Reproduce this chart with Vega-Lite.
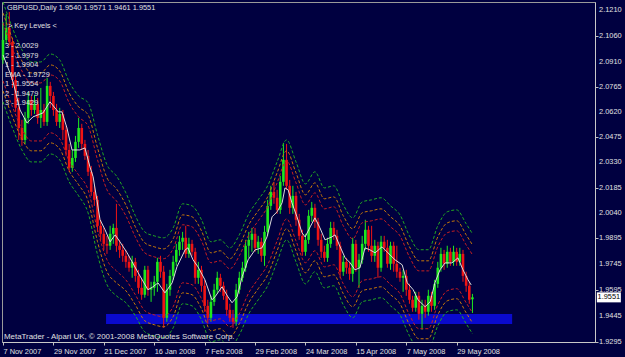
{
"$schema": "https://vega.github.io/schema/vega-lite/v6.json",
"width": 593, "height": 340,
"autosize": {"type": "none"},
"padding": {"left": 2, "top": 2, "right": 30, "bottom": 15},
"background": "#000040",
"config": {"view": {"stroke": "#9a9a9a", "strokeWidth": 1}, "font": "Liberation Sans",
 "axis": {"labelOverlap": false, "labelFlush": false, "grid": false, "labelFont": "Liberation Sans", "labelFontSize": 7.4, "labelColor": "#e0e0e0", "tickColor": "#c0c0c0", "domainColor": "#c8c8c8", "tickSize": 3}},
"datasets": {
"zone": [{"i1": 32.7, "i2": 161.6, "top": 1.9455, "bot": 1.9397}],
"yticks": [{"p":2.1210},{"p":2.1060},{"p":2.0910},{"p":2.0765},{"p":2.0620},{"p":2.0475},{"p":2.0330},{"p":2.0185},{"p":2.0040},{"p":1.9895},{"p":1.9745},{"p":1.9595},{"p":1.9445},{"p":1.9295}],
"head": [{"t": "GBPUSD,Daily  1.9540 1.9571 1.9461 1.9551"}],
"keyhead": [{"t": "> Key Levels <"}],
"levels": [{"t": ["3 - 2.0029", "2 - 1.9979", "1 - 1.9904", "EMA - 1.9729", "1 - 1.9554", "2 - 1.9479", "3 - 1.9429"]}],
"footer": [{"t": "MetaTrader - Alpari UK, © 2001-2008 MetaQuotes Software Corp."}],
"candles": [
{"i":0,"o":2.0922,"h":2.1141,"l":2.0899,"c":2.1037},
{"i":1,"o":2.1037,"h":2.1187,"l":2.1014,"c":2.1106},
{"i":2,"o":2.1106,"h":2.1199,"l":2.1003,"c":2.1026},
{"i":3,"o":2.1026,"h":2.1049,"l":2.0760,"c":2.0806},
{"i":4,"o":2.0806,"h":2.0829,"l":2.0622,"c":2.0645},
{"i":5,"o":2.0645,"h":2.0703,"l":2.0460,"c":2.0529},
{"i":6,"o":2.0529,"h":2.0576,"l":2.0426,"c":2.0460},
{"i":7,"o":2.0460,"h":2.0622,"l":2.0437,"c":2.0587},
{"i":8,"o":2.0587,"h":2.0737,"l":2.0553,"c":2.0691},
{"i":9,"o":2.0691,"h":2.0714,"l":2.0599,"c":2.0633},
{"i":10,"o":2.0633,"h":2.0720,"l":2.0610,"c":2.0668},
{"i":11,"o":2.0668,"h":2.0703,"l":2.0553,"c":2.0587},
{"i":12,"o":2.0587,"h":2.0760,"l":2.0529,"c":2.0633},
{"i":13,"o":2.0633,"h":2.0668,"l":2.0541,"c":2.0564},
{"i":14,"o":2.0564,"h":2.0818,"l":2.0541,"c":2.0772},
{"i":15,"o":2.0772,"h":2.0795,"l":2.0645,"c":2.0714},
{"i":16,"o":2.0714,"h":2.0737,"l":2.0599,"c":2.0633},
{"i":17,"o":2.0633,"h":2.0668,"l":2.0541,"c":2.0564},
{"i":18,"o":2.0564,"h":2.0645,"l":2.0529,"c":2.0610},
{"i":19,"o":2.0610,"h":2.0633,"l":2.0460,"c":2.0518},
{"i":20,"o":2.0518,"h":2.0541,"l":2.0368,"c":2.0402},
{"i":21,"o":2.0402,"h":2.0437,"l":2.0276,"c":2.0299},
{"i":22,"o":2.0299,"h":2.0402,"l":2.0276,"c":2.0356},
{"i":23,"o":2.0356,"h":2.0483,"l":2.0333,"c":2.0449},
{"i":24,"o":2.0449,"h":2.0587,"l":2.0414,"c":2.0529},
{"i":25,"o":2.0529,"h":2.0553,"l":2.0402,"c":2.0437},
{"i":26,"o":2.0437,"h":2.0460,"l":2.0345,"c":2.0368},
{"i":27,"o":2.0368,"h":2.0402,"l":2.0252,"c":2.0276},
{"i":28,"o":2.0276,"h":2.0310,"l":2.0137,"c":2.0160},
{"i":29,"o":2.0160,"h":2.0195,"l":2.0079,"c":2.0114},
{"i":30,"o":2.0114,"h":2.0137,"l":1.9929,"c":1.9964},
{"i":31,"o":1.9964,"h":1.9999,"l":1.9883,"c":1.9918},
{"i":32,"o":1.9918,"h":1.9952,"l":1.9825,"c":1.9860},
{"i":33,"o":1.9860,"h":1.9906,"l":1.9802,"c":1.9849},
{"i":34,"o":1.9849,"h":1.9964,"l":1.9825,"c":1.9918},
{"i":35,"o":1.9918,"h":1.9976,"l":1.9860,"c":1.9952},
{"i":36,"o":1.9952,"h":2.0091,"l":1.9814,"c":1.9849},
{"i":37,"o":1.9849,"h":1.9883,"l":1.9779,"c":1.9825},
{"i":38,"o":1.9825,"h":1.9860,"l":1.9756,"c":1.9791},
{"i":39,"o":1.9791,"h":1.9825,"l":1.9722,"c":1.9756},
{"i":40,"o":1.9756,"h":1.9791,"l":1.9699,"c":1.9722},
{"i":41,"o":1.9722,"h":1.9791,"l":1.9664,"c":1.9756},
{"i":42,"o":1.9756,"h":1.9779,"l":1.9641,"c":1.9675},
{"i":43,"o":1.9675,"h":1.9710,"l":1.9572,"c":1.9606},
{"i":44,"o":1.9606,"h":1.9664,"l":1.9537,"c":1.9566},
{"i":45,"o":1.9566,"h":1.9733,"l":1.9549,"c":1.9710},
{"i":46,"o":1.9710,"h":1.9733,"l":1.9560,"c":1.9595},
{"i":47,"o":1.9595,"h":1.9641,"l":1.9525,"c":1.9606},
{"i":48,"o":1.9606,"h":1.9675,"l":1.9560,"c":1.9641},
{"i":49,"o":1.9641,"h":1.9779,"l":1.9583,"c":1.9756},
{"i":50,"o":1.9756,"h":1.9791,"l":1.9664,"c":1.9699},
{"i":51,"o":1.9699,"h":1.9733,"l":1.9375,"c":1.9433},
{"i":52,"o":1.9433,"h":1.9629,"l":1.9410,"c":1.9595},
{"i":53,"o":1.9595,"h":1.9710,"l":1.9560,"c":1.9675},
{"i":54,"o":1.9675,"h":1.9791,"l":1.9652,"c":1.9756},
{"i":55,"o":1.9756,"h":1.9860,"l":1.9733,"c":1.9825},
{"i":56,"o":1.9825,"h":1.9906,"l":1.9791,"c":1.9872},
{"i":57,"o":1.9872,"h":1.9929,"l":1.9825,"c":1.9895},
{"i":58,"o":1.9895,"h":1.9964,"l":1.9779,"c":1.9802},
{"i":59,"o":1.9802,"h":1.9895,"l":1.9779,"c":1.9860},
{"i":60,"o":1.9860,"h":1.9883,"l":1.9791,"c":1.9814},
{"i":61,"o":1.9814,"h":1.9837,"l":1.9629,"c":1.9664},
{"i":62,"o":1.9664,"h":1.9756,"l":1.9629,"c":1.9710},
{"i":63,"o":1.9710,"h":1.9733,"l":1.9583,"c":1.9618},
{"i":64,"o":1.9618,"h":1.9652,"l":1.9468,"c":1.9502},
{"i":65,"o":1.9502,"h":1.9537,"l":1.9399,"c":1.9433},
{"i":66,"o":1.9433,"h":1.9560,"l":1.9410,"c":1.9525},
{"i":67,"o":1.9525,"h":1.9629,"l":1.9502,"c":1.9595},
{"i":68,"o":1.9595,"h":1.9699,"l":1.9572,"c":1.9664},
{"i":69,"o":1.9664,"h":1.9687,"l":1.9583,"c":1.9618},
{"i":70,"o":1.9618,"h":1.9641,"l":1.9537,"c":1.9560},
{"i":71,"o":1.9560,"h":1.9595,"l":1.9445,"c":1.9479},
{"i":72,"o":1.9479,"h":1.9514,"l":1.9410,"c":1.9433},
{"i":73,"o":1.9433,"h":1.9479,"l":1.9375,"c":1.9410},
{"i":74,"o":1.9410,"h":1.9629,"l":1.9387,"c":1.9595},
{"i":75,"o":1.9595,"h":1.9699,"l":1.9572,"c":1.9664},
{"i":76,"o":1.9664,"h":1.9756,"l":1.9641,"c":1.9722},
{"i":77,"o":1.9722,"h":1.9883,"l":1.9699,"c":1.9849},
{"i":78,"o":1.9849,"h":1.9929,"l":1.9779,"c":1.9883},
{"i":79,"o":1.9883,"h":1.9952,"l":1.9814,"c":1.9918},
{"i":80,"o":1.9918,"h":1.9952,"l":1.9814,"c":1.9837},
{"i":81,"o":1.9837,"h":1.9906,"l":1.9802,"c":1.9872},
{"i":82,"o":1.9872,"h":1.9895,"l":1.9756,"c":1.9791},
{"i":83,"o":1.9791,"h":1.9964,"l":1.9733,"c":1.9929},
{"i":84,"o":1.9929,"h":2.0114,"l":1.9906,"c":2.0079},
{"i":85,"o":2.0079,"h":2.0195,"l":2.0056,"c":2.0160},
{"i":86,"o":2.0160,"h":2.0218,"l":2.0091,"c":2.0126},
{"i":87,"o":2.0126,"h":2.0172,"l":2.0033,"c":2.0056},
{"i":88,"o":2.0056,"h":2.0252,"l":2.0033,"c":2.0218},
{"i":89,"o":2.0218,"h":2.0443,"l":2.0195,"c":2.0345},
{"i":90,"o":2.0345,"h":2.0437,"l":2.0172,"c":2.0195},
{"i":91,"o":2.0195,"h":2.0229,"l":2.0033,"c":2.0068},
{"i":92,"o":2.0068,"h":2.0195,"l":2.0033,"c":2.0137},
{"i":93,"o":2.0137,"h":2.0160,"l":1.9964,"c":1.9999},
{"i":94,"o":1.9999,"h":2.0033,"l":1.9883,"c":1.9906},
{"i":95,"o":1.9906,"h":1.9941,"l":1.9791,"c":1.9814},
{"i":96,"o":1.9814,"h":1.9918,"l":1.9791,"c":1.9883},
{"i":97,"o":1.9883,"h":2.0056,"l":1.9860,"c":2.0022},
{"i":98,"o":2.0022,"h":2.0102,"l":1.9987,"c":2.0068},
{"i":99,"o":2.0068,"h":2.0091,"l":1.9952,"c":1.9987},
{"i":100,"o":1.9987,"h":2.0010,"l":1.9849,"c":1.9883},
{"i":101,"o":1.9883,"h":1.9918,"l":1.9779,"c":1.9814},
{"i":102,"o":1.9814,"h":1.9849,"l":1.9756,"c":1.9779},
{"i":103,"o":1.9779,"h":1.9895,"l":1.9756,"c":1.9860},
{"i":104,"o":1.9860,"h":1.9987,"l":1.9837,"c":1.9952},
{"i":105,"o":1.9952,"h":1.9987,"l":1.9883,"c":1.9906},
{"i":106,"o":1.9906,"h":1.9941,"l":1.9825,"c":1.9849},
{"i":107,"o":1.9849,"h":1.9872,"l":1.9664,"c":1.9699},
{"i":108,"o":1.9699,"h":1.9791,"l":1.9675,"c":1.9756},
{"i":109,"o":1.9756,"h":1.9779,"l":1.9687,"c":1.9722},
{"i":110,"o":1.9722,"h":1.9756,"l":1.9652,"c":1.9687},
{"i":111,"o":1.9687,"h":1.9895,"l":1.9641,"c":1.9860},
{"i":112,"o":1.9860,"h":1.9883,"l":1.9699,"c":1.9722},
{"i":113,"o":1.9722,"h":1.9802,"l":1.9606,"c":1.9768},
{"i":114,"o":1.9768,"h":1.9906,"l":1.9745,"c":1.9860},
{"i":115,"o":1.9860,"h":1.9999,"l":1.9825,"c":1.9941},
{"i":116,"o":1.9941,"h":1.9964,"l":1.9814,"c":1.9849},
{"i":117,"o":1.9849,"h":1.9964,"l":1.9756,"c":1.9791},
{"i":118,"o":1.9791,"h":1.9883,"l":1.9756,"c":1.9849},
{"i":119,"o":1.9849,"h":1.9872,"l":1.9664,"c":1.9722},
{"i":120,"o":1.9722,"h":1.9906,"l":1.9699,"c":1.9872},
{"i":121,"o":1.9872,"h":1.9906,"l":1.9814,"c":1.9837},
{"i":122,"o":1.9837,"h":1.9883,"l":1.9722,"c":1.9745},
{"i":123,"o":1.9745,"h":1.9872,"l":1.9710,"c":1.9849},
{"i":124,"o":1.9849,"h":1.9872,"l":1.9699,"c":1.9745},
{"i":125,"o":1.9745,"h":1.9849,"l":1.9664,"c":1.9699},
{"i":126,"o":1.9699,"h":1.9722,"l":1.9641,"c":1.9664},
{"i":127,"o":1.9664,"h":1.9710,"l":1.9583,"c":1.9675},
{"i":128,"o":1.9675,"h":1.9710,"l":1.9560,"c":1.9595},
{"i":129,"o":1.9595,"h":1.9629,"l":1.9514,"c":1.9537},
{"i":130,"o":1.9537,"h":1.9560,"l":1.9468,"c":1.9491},
{"i":131,"o":1.9491,"h":1.9583,"l":1.9468,"c":1.9560},
{"i":132,"o":1.9560,"h":1.9583,"l":1.9422,"c":1.9456},
{"i":133,"o":1.9456,"h":1.9537,"l":1.9364,"c":1.9502},
{"i":134,"o":1.9502,"h":1.9537,"l":1.9433,"c":1.9468},
{"i":135,"o":1.9468,"h":1.9595,"l":1.9445,"c":1.9560},
{"i":136,"o":1.9560,"h":1.9583,"l":1.9468,"c":1.9502},
{"i":137,"o":1.9502,"h":1.9652,"l":1.9479,"c":1.9629},
{"i":138,"o":1.9629,"h":1.9756,"l":1.9606,"c":1.9722},
{"i":139,"o":1.9722,"h":1.9837,"l":1.9699,"c":1.9802},
{"i":140,"o":1.9802,"h":1.9825,"l":1.9710,"c":1.9745},
{"i":141,"o":1.9745,"h":1.9849,"l":1.9722,"c":1.9814},
{"i":142,"o":1.9814,"h":1.9837,"l":1.9733,"c":1.9756},
{"i":143,"o":1.9756,"h":1.9849,"l":1.9733,"c":1.9814},
{"i":144,"o":1.9814,"h":1.9837,"l":1.9733,"c":1.9756},
{"i":145,"o":1.9756,"h":1.9837,"l":1.9733,"c":1.9802},
{"i":146,"o":1.9802,"h":1.9825,"l":1.9641,"c":1.9675},
{"i":147,"o":1.9675,"h":1.9699,"l":1.9583,"c":1.9618},
{"i":148,"o":1.9618,"h":1.9641,"l":1.9514,"c":1.9537},
{"i":149,"o":1.9540,"h":1.9571,"l":1.9461,"c":1.9551}
],
"ema": [
{"i":0,"v":2.0951},{"i":2.2,"v":2.0847},{"i":3.2,"v":2.0795},{"i":5.4,"v":2.0633},{"i":7.6,"v":2.0558},{"i":9.5,"v":2.0593},{"i":12.7,"v":2.0616},{"i":14.9,"v":2.0680},{"i":17.5,"v":2.0622},{"i":18.7,"v":2.0622},{"i":20.3,"v":2.0529},{"i":21.9,"v":2.0402},{"i":24.4,"v":2.0402},{"i":26,"v":2.0414},{"i":27.6,"v":2.0304},{"i":28.6,"v":2.0247},{"i":29.8,"v":2.0114},{"i":30.8,"v":1.9999},{"i":32.4,"v":1.9941},{"i":34,"v":1.9872},{"i":35.6,"v":1.9912},{"i":37.1,"v":1.9872},{"i":39.4,"v":1.9808},{"i":42.9,"v":1.9693},{"i":46,"v":1.9595},{"i":47.6,"v":1.9612},{"i":49.2,"v":1.9635},{"i":51.4,"v":1.9577},{"i":53.7,"v":1.9635},{"i":55.2,"v":1.9727},{"i":57.8,"v":1.9825},{"i":58.7,"v":1.9837},{"i":60.3,"v":1.9768},{"i":61.9,"v":1.9727},{"i":64.1,"v":1.9652},{"i":66.3,"v":1.9537},{"i":67.3,"v":1.9554},{"i":69.5,"v":1.9612},{"i":71.4,"v":1.9554},{"i":72.7,"v":1.9520},{"i":74.3,"v":1.9554},{"i":75.9,"v":1.9670},{"i":77.8,"v":1.9768},{"i":80,"v":1.9825},{"i":82.2,"v":1.9837},{"i":83.8,"v":1.9900},{"i":85.4,"v":2.0016},{"i":87,"v":2.0045},{"i":88.6,"v":2.0097},{"i":89.5,"v":2.0183},{"i":90.5,"v":2.0172},{"i":91.7,"v":2.0097},{"i":93.3,"v":2.0016},{"i":94.9,"v":1.9924},{"i":95.9,"v":1.9900},{"i":97.5,"v":1.9958},{"i":99,"v":2.0010},{"i":100.6,"v":1.9952},{"i":102.2,"v":1.9883},{"i":104.4,"v":1.9900},{"i":105.4,"v":1.9912},{"i":107,"v":1.9843},{"i":108.6,"v":1.9779},{"i":110.2,"v":1.9750},{"i":111.7,"v":1.9710},{"i":113.3,"v":1.9722},{"i":114.9,"v":1.9837},{"i":116.5,"v":1.9825},{"i":118.1,"v":1.9808},{"i":120.3,"v":1.9843},{"i":122.2,"v":1.9808},{"i":124.4,"v":1.9768},{"i":126.7,"v":1.9739},{"i":128.3,"v":1.9635},{"i":130.2,"v":1.9595},{"i":131.7,"v":1.9537},{"i":134,"v":1.9497},{"i":135.6,"v":1.9526},{"i":137.1,"v":1.9635},{"i":138.7,"v":1.9710},{"i":140.3,"v":1.9750},{"i":142.5,"v":1.9750},{"i":144.4,"v":1.9779},{"i":146,"v":1.9710},{"i":147.6,"v":1.9652},{"i":148.6,"v":1.9623}
],
"bands": [
{"i":0,"ug":2.1256,"uo":2.1193,"ur":2.1135,"lr":2.0801,"lo":2.0743,"lg":2.0680},
{"i":3,"ug":2.1106,"uo":2.1043,"ur":2.0985,"lr":2.0651,"lo":2.0593,"lg":2.0529},
{"i":6,"ug":2.0980,"uo":2.0916,"ur":2.0858,"lr":2.0524,"lo":2.0466,"lg":2.0402},
{"i":9,"ug":2.0910,"uo":2.0847,"ur":2.0789,"lr":2.0454,"lo":2.0397,"lg":2.0333},
{"i":12,"ug":2.0910,"uo":2.0847,"ur":2.0789,"lr":2.0454,"lo":2.0397,"lg":2.0333},
{"i":15,"ug":2.0956,"uo":2.0893,"ur":2.0835,"lr":2.0501,"lo":2.0443,"lg":2.0379},
{"i":18,"ug":2.0922,"uo":2.0858,"ur":2.0801,"lr":2.0466,"lo":2.0408,"lg":2.0345},
{"i":21,"ug":2.0795,"uo":2.0731,"ur":2.0674,"lr":2.0339,"lo":2.0281,"lg":2.0218},
{"i":24,"ug":2.0714,"uo":2.0651,"ur":2.0593,"lr":2.0258,"lo":2.0201,"lg":2.0137},
{"i":27,"ug":2.0674,"uo":2.0604,"ur":2.0541,"lr":2.0172,"lo":2.0108,"lg":2.0039},
{"i":30,"ug":2.0489,"uo":2.0414,"ur":2.0345,"lr":1.9941,"lo":1.9872,"lg":1.9797},
{"i":33,"ug":2.0316,"uo":2.0241,"ur":2.0172,"lr":1.9768,"lo":1.9699,"lg":1.9624},
{"i":36,"ug":2.0252,"uo":2.0178,"ur":2.0108,"lr":1.9704,"lo":1.9635,"lg":1.9560},
{"i":39,"ug":2.0154,"uo":2.0085,"ur":2.0022,"lr":1.9652,"lo":1.9589,"lg":1.9520},
{"i":42,"ug":2.0022,"uo":1.9958,"ur":1.9900,"lr":1.9566,"lo":1.9508,"lg":1.9445},
{"i":45,"ug":1.9929,"uo":1.9866,"ur":1.9808,"lr":1.9474,"lo":1.9416,"lg":1.9352},
{"i":48,"ug":1.9906,"uo":1.9843,"ur":1.9785,"lr":1.9450,"lo":1.9393,"lg":1.9329},
{"i":51,"ug":1.9895,"uo":1.9831,"ur":1.9774,"lr":1.9439,"lo":1.9381,"lg":1.9318},
{"i":54,"ug":1.9952,"uo":1.9889,"ur":1.9831,"lr":1.9497,"lo":1.9439,"lg":1.9375},
{"i":57,"ug":2.0091,"uo":2.0027,"ur":1.9970,"lr":1.9635,"lo":1.9577,"lg":1.9514},
{"i":60,"ug":2.0079,"uo":2.0016,"ur":1.9958,"lr":1.9624,"lo":1.9566,"lg":1.9502},
{"i":63,"ug":1.9999,"uo":1.9935,"ur":1.9877,"lr":1.9543,"lo":1.9485,"lg":1.9422},
{"i":66,"ug":1.9872,"uo":1.9808,"ur":1.9751,"lr":1.9416,"lo":1.9358,"lg":1.9295},
{"i":69,"ug":1.9883,"uo":1.9820,"ur":1.9762,"lr":1.9427,"lo":1.9370,"lg":1.9306},
{"i":72,"ug":1.9837,"uo":1.9774,"ur":1.9716,"lr":1.9381,"lo":1.9324,"lg":1.9260},
{"i":75,"ug":1.9912,"uo":1.9849,"ur":1.9791,"lr":1.9456,"lo":1.9399,"lg":1.9335},
{"i":78,"ug":2.0033,"uo":1.9970,"ur":1.9912,"lr":1.9577,"lo":1.9520,"lg":1.9456},
{"i":81,"ug":2.0114,"uo":2.0051,"ur":1.9993,"lr":1.9658,"lo":1.9601,"lg":1.9537},
{"i":84,"ug":2.0195,"uo":2.0131,"ur":2.0074,"lr":1.9739,"lo":1.9681,"lg":1.9618},
{"i":87,"ug":2.0333,"uo":2.0270,"ur":2.0212,"lr":1.9877,"lo":1.9820,"lg":1.9756},
{"i":90,"ug":2.0460,"uo":2.0397,"ur":2.0339,"lr":2.0004,"lo":1.9947,"lg":1.9883},
{"i":93,"ug":2.0333,"uo":2.0270,"ur":2.0212,"lr":1.9877,"lo":1.9820,"lg":1.9756},
{"i":96,"ug":2.0206,"uo":2.0143,"ur":2.0085,"lr":1.9751,"lo":1.9693,"lg":1.9629},
{"i":99,"ug":2.0276,"uo":2.0212,"ur":2.0154,"lr":1.9820,"lo":1.9762,"lg":1.9699},
{"i":102,"ug":2.0183,"uo":2.0120,"ur":2.0062,"lr":1.9727,"lo":1.9670,"lg":1.9606},
{"i":105,"ug":2.0195,"uo":2.0131,"ur":2.0074,"lr":1.9739,"lo":1.9681,"lg":1.9618},
{"i":108,"ug":2.0085,"uo":2.0022,"ur":1.9964,"lr":1.9629,"lo":1.9572,"lg":1.9508},
{"i":111,"ug":2.0010,"uo":1.9947,"ur":1.9889,"lr":1.9554,"lo":1.9497,"lg":1.9433},
{"i":114,"ug":2.0102,"uo":2.0039,"ur":1.9981,"lr":1.9647,"lo":1.9589,"lg":1.9525},
{"i":117,"ug":2.0114,"uo":2.0051,"ur":1.9993,"lr":1.9658,"lo":1.9601,"lg":1.9537},
{"i":120,"ug":2.0126,"uo":2.0062,"ur":2.0004,"lr":1.9670,"lo":1.9612,"lg":1.9549},
{"i":123,"ug":2.0079,"uo":2.0016,"ur":1.9958,"lr":1.9624,"lo":1.9566,"lg":1.9502},
{"i":126,"ug":2.0027,"uo":1.9964,"ur":1.9906,"lr":1.9572,"lo":1.9514,"lg":1.9450},
{"i":129,"ug":1.9906,"uo":1.9843,"ur":1.9785,"lr":1.9450,"lo":1.9393,"lg":1.9329},
{"i":132,"ug":1.9826,"uo":1.9762,"ur":1.9704,"lr":1.9370,"lo":1.9312,"lg":1.9249},
{"i":135,"ug":1.9826,"uo":1.9762,"ur":1.9704,"lr":1.9370,"lo":1.9312,"lg":1.9249},
{"i":138,"ug":1.9964,"uo":1.9900,"ur":1.9843,"lr":1.9508,"lo":1.9450,"lg":1.9387},
{"i":141,"ug":2.0045,"uo":1.9981,"ur":1.9924,"lr":1.9589,"lo":1.9531,"lg":1.9468},
{"i":144,"ug":2.0056,"uo":1.9993,"ur":1.9935,"lr":1.9601,"lo":1.9543,"lg":1.9479},
{"i":147,"ug":1.9976,"uo":1.9912,"ur":1.9854,"lr":1.9520,"lo":1.9462,"lg":1.9399},
{"i":149,"ug":1.9918,"uo":1.9854,"ur":1.9797,"lr":1.9462,"lo":1.9404,"lg":1.9341}
]
},
"layer": [
{"data": {"name": "zone"},
 "mark": {"type": "rect", "color": "#0a0acd"},
 "encoding": {
  "x": {"field": "i1", "type": "quantitative", "title": null, "scale": {"domain": [-0.32, 187.9], "nice": false, "zero": false, "padding": 0},
   "axis": {"orient": "bottom", "values": [0,16,32,48,64,80,96,112,128,144],
    "labelExpr": "datum.value==0?'7 Nov 2007':datum.value==16?'29 Nov 2007':datum.value==32?'21 Dec 2007':datum.value==48?'16 Jan 2008':datum.value==64?'7 Feb 2008':datum.value==80?'29 Feb 2008':datum.value==96?'24 Mar 2008':datum.value==112?'15 Apr 2008':datum.value==128?'7 May 2008':'29 May 2008'",
    "labelAlign": "left", "labelBaseline": "top", "labelPadding": 2, "labelOverlap": false, "title": null}},
  "x2": {"field": "i2"},
  "y": {"field": "top", "type": "quantitative", "title": null, "scale": {"domain": [1.92933, 2.12562], "nice": false, "zero": false, "padding": 0},
   "axis": {"orient": "right", "values": [2.121,2.106,2.091,2.0765,2.062,2.0475,2.033,2.0185,2.004,1.9895,1.9745,1.9595,1.9445,1.9295],
    "labels": false, "title": null}},
  "y2": {"field": "bot"}
 }},
{"data": {"name": "candles"},
 "mark": {"type": "rule", "strokeWidth": 1},
 "encoding": {
  "x": {"field": "i", "type": "quantitative", "title": null},
  "y": {"field": "l", "type": "quantitative", "title": null},
  "y2": {"field": "h"},
  "color": {"condition": {"test": "datum.c >= datum.o", "value": "#1ee81e"}, "value": "#f01414"}
 }},
{"data": {"name": "candles"},
 "mark": {"type": "bar", "width": 2.6},
 "encoding": {
  "x": {"field": "i", "type": "quantitative", "title": null},
  "y": {"field": "o", "type": "quantitative", "title": null},
  "y2": {"field": "c"},
  "color": {"condition": {"test": "datum.c >= datum.o", "value": "#1ee81e"}, "value": "#f01414"}
 }},
{"data": {"name": "bands"},
 "transform": [{"fold": ["ug","uo","ur","lr","lo","lg"], "as": ["band","v"]}],
 "mark": {"type": "line", "strokeWidth": 1, "strokeDash": [3,2], "clip": true, "interpolate": "monotone"},
 "encoding": {
  "x": {"field": "i", "type": "quantitative", "title": null},
  "y": {"field": "v", "type": "quantitative", "title": null},
  "color": {"field": "band", "type": "nominal", "legend": null,
   "scale": {"domain": ["ug","uo","ur","lr","lo","lg"], "range": ["#22a822","#c87808","#c82020","#c82020","#c87808","#22a822"]}}
 }},
{"data": {"name": "ema"},
 "mark": {"type": "line", "strokeWidth": 1, "color": "#dcdcdc", "clip": true},
 "encoding": {
  "x": {"field": "i", "type": "quantitative", "title": null},
  "y": {"field": "v", "type": "quantitative", "title": null}
 }},
{"data": {"name": "yticks"},
 "mark": {"type": "text", "align": "left", "baseline": "middle", "font": "Liberation Sans", "fontSize": 7.4, "color": "#e0e0e0"},
 "encoding": {
  "x": {"datum": 189.2, "type": "quantitative", "title": null},
  "y": {"field": "p", "type": "quantitative", "title": null},
  "text": {"field": "p", "type": "quantitative", "format": ".4f"}
 }},
{"data": {"name": "head"},
 "mark": {"type": "text", "align": "left", "baseline": "top", "dx": 5, "dy": 2, "font": "Liberation Sans", "fontSize": 7.4, "color": "#e0e0e0"},
 "encoding": {
  "x": {"datum": -0.32, "type": "quantitative", "title": null},
  "y": {"datum": 2.12562, "type": "quantitative", "title": null},
  "text": {"field": "t"}
 }},
{"data": {"name": "keyhead"},
 "mark": {"type": "text", "align": "left", "baseline": "top", "dx": 6, "dy": 20, "font": "Liberation Sans", "fontSize": 7.4, "color": "#e0e0e0"},
 "encoding": {
  "x": {"datum": -0.32, "type": "quantitative", "title": null},
  "y": {"datum": 2.12562, "type": "quantitative", "title": null},
  "text": {"field": "t"}
 }},
{"data": {"name": "levels"},
 "mark": {"type": "text", "align": "left", "baseline": "top", "dx": 3, "dy": 40, "lineHeight": 9.5, "font": "Liberation Sans", "fontSize": 7.4, "color": "#e0e0e0"},
 "encoding": {
  "x": {"datum": -0.32, "type": "quantitative", "title": null},
  "y": {"datum": 2.12562, "type": "quantitative", "title": null},
  "text": {"field": "t"}
 }},
{"data": {"name": "footer"},
 "mark": {"type": "text", "align": "left", "baseline": "middle", "dx": 2, "dy": -5, "font": "Liberation Sans", "fontSize": 7.9, "color": "#e0e0e0"},
 "encoding": {
  "x": {"datum": -0.32, "type": "quantitative", "title": null},
  "y": {"datum": 1.92933, "type": "quantitative", "title": null},
  "text": {"field": "t"}
 }},
{"data": {"name": "candles"},
 "transform": [{"filter": "datum.i == 149"}],
 "mark": {"type": "tick", "orient": "horizontal", "size": 24, "thickness": 10, "color": "#ffffff", "opacity": 1},
 "encoding": {
  "x": {"datum": 192.3, "type": "quantitative", "title": null},
  "y": {"field": "c", "type": "quantitative", "title": null}
 }},
{"data": {"name": "candles"},
 "transform": [{"filter": "datum.i == 149"}],
 "mark": {"type": "text", "color": "#000000", "font": "Liberation Sans", "fontSize": 7.4, "align": "center", "baseline": "middle"},
 "encoding": {
  "x": {"datum": 192.3, "type": "quantitative", "title": null},
  "y": {"field": "c", "type": "quantitative", "title": null},
  "text": {"field": "c", "type": "quantitative", "format": ".4f"}
 }}
]
}
